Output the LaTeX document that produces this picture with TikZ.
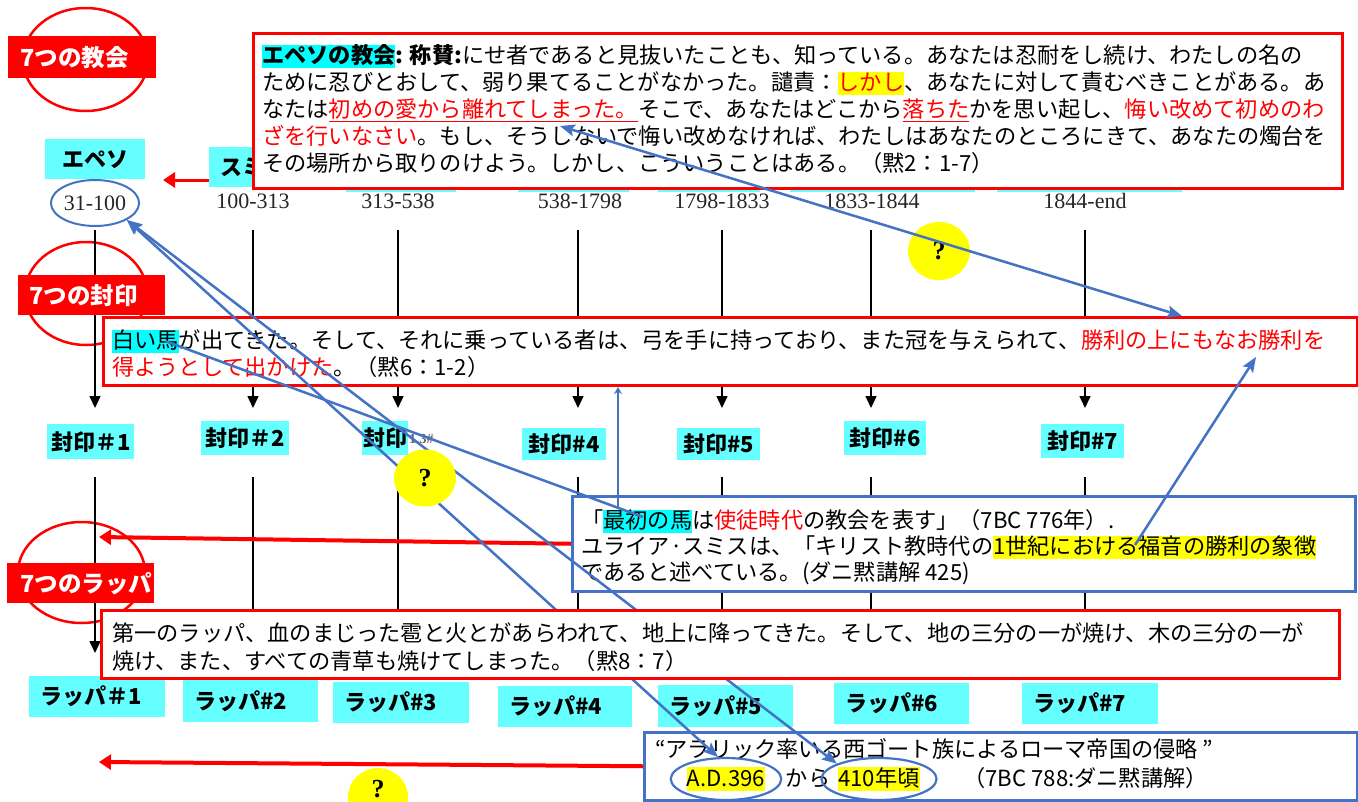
\documentclass[tikz,border=0pt]{standalone}
\usepackage{fontspec}
\usetikzlibrary{shapes.geometric,arrows.meta}
\newfontfamily\jp{Noto Sans CJK JP}
\newfontfamily\tnr{Liberation Serif}
\definecolor{bl}{RGB}{68,114,196}
\definecolor{cy}{RGB}{102,255,255}
\definecolor{hcy}{RGB}{0,255,255}
\definecolor{yel}{RGB}{255,255,0}
\definecolor{rd}{RGB}{255,0,0}
\lineskiplimit=-\maxdimen
\newcommand\HLc[1]{{\setlength{\fboxsep}{0pt}\colorbox{hcy}{\rule[-0.2em]{0pt}{1.05em}#1}}}
\newcommand\HLy[1]{{\setlength{\fboxsep}{0pt}\colorbox{yel}{\rule[-0.2em]{0pt}{1.05em}#1}}}
\newcommand\RD[1]{{\color{rd}#1}}
\newcommand\RU[1]{{\color{rd}\underline{#1}}}
\begin{document}
\begin{tikzpicture}[x=1pt,y=-1pt,
  redbox/.style={draw=rd, line width=3pt, fill=white, anchor=north west, inner sep=0pt},
  bluebox/.style={draw=bl, line width=2.5pt, fill=white, anchor=north west, inner sep=0pt},
  body/.style={anchor=north west, align=left, inner sep=0pt, font=\jp\fontsize{22.2}{27}\selectfont},
  bodyA/.style={anchor=north west, align=left, inner sep=0pt, font=\jp\fontsize{22.2}{26}\selectfont},
  body3/.style={anchor=north west, align=left, inner sep=0pt, font=\jp\fontsize{22.2}{28}\selectfont},
  jpt/.style={inner sep=0pt, font=\jp\fontsize{22.2}{27}\selectfont},
  lab/.style={fill=cy, anchor=north west, inner sep=0pt, font=\jp\bfseries\fontsize{22}{24}\selectfont},
  rlab/.style={fill=rd, text=white, anchor=north west, align=left, inner ysep=0pt, font=\jp\bfseries\fontsize{23.5}{25}\selectfont},
  redell/.style={ellipse, draw=rd, line width=2.5pt, inner sep=0pt},
  yr/.style={inner sep=0pt, text=black!85, font=\tnr\fontsize{22}{24}\selectfont},
  qm/.style={ellipse, fill=yel, inner sep=0pt, font=\tnr\bfseries\fontsize{26}{28}\selectfont},
  tline/.style={draw=black, line width=1.5pt, -{Triangle[length=12pt,width=11pt]}},
  rarr/.style={draw=rd, line width=4pt, -{Triangle[length=12pt,width=15pt]}},
  bl2/.style={draw=bl, line width=2.5pt}
]
\useasboundingbox (0,0) rectangle (1358,801);
\fill[white] (0,0) rectangle (1358,801);

% red ellipses around the row titles
\node[redell, minimum width=125pt, minimum height=103pt] (eC) at (85.5,59.5) {};
\node[redell, minimum width=122pt, minimum height=103pt] (eS) at (86,293.5) {};
\node[redell, minimum width=127pt, minimum height=101pt] (eT) at (81.5,572.5) {};

% timeline lines
\foreach \x [count=\i] in {95,253,398,578,722,871,1085} {
  \coordinate (ut\i) at (\x,230);
  \coordinate (ub\i) at (\x,408);
  \coordinate (lt\i) at (\x,477);
  \coordinate (lb\i) at (\x,653);
  \draw[tline] (ut\i) -- (ub\i);
  \draw[tline] (lt\i) -- (lb\i);
}

% church name boxes (mostly hidden)
\fill[cy] (346,150) rectangle (456,192);
\fill[cy] (518,150) rectangle (629,192);
\fill[cy] (658,150) rectangle (760,192);
\fill[cy] (790,150) rectangle (975,192);
\fill[cy] (997,150) rectangle (1182,192);
\node[lab, minimum width=100pt, minimum height=40pt] (cE) at (45,139) {エペソ};
\node[lab, text width=100pt, align=left, inner xsep=11pt, minimum height=40pt] (cS) at (209,147) {スミ};

% row titles
\node[rlab, minimum height=42pt, text width=124pt, inner xsep=12pt] (lC) at (8,36) {7つの教会};
\node[rlab, minimum height=40pt, text width=125pt, inner xsep=11pt] (lS) at (18,275) {7つの封印};
\node[rlab, minimum height=40pt, text width=121pt, inner xsep=13pt] (lT) at (7,563) {7つのラッパ};

% years
\node[yr, ellipse, draw=bl, line width=2pt, minimum width=84pt, minimum height=46pt] (y1) at (95,203) {31-100};
\node[yr] (y2) at (253,201) {100-313};
\node[yr] (y3) at (398,201) {313-538};
\node[yr] (y4) at (580,201) {538-1798};
\node[yr] (y5) at (722,201) {1798-1833};
\node[yr] (y6) at (872,201) {1833-1844};
\node[yr] (y7) at (1085,201) {1844-end};

% text box 1
\node[redbox, minimum width=1089pt, minimum height=155pt] (b1) at (252,32) {};
\node[body] (t1) at (262,44.5) {\strut\HLc{\bfseries エペソの教会}\textbf{: 称賛:}にせ者であると見抜いたことも、知っている。あなたは忍耐をし続け、わたしの名の\\
\strut ために忍びとおして、弱り果てることがなかった。譴責：\HLy{\RD{しかし}}、あなたに対して責むべきことがある。あ\\
\strut なたは\RU{初めの愛から離れてしまった。}そこで、あなたはどこから\RU{落ちた}かを思い起し、\RD{悔い改めて初めのわ}\\
\strut\RD{ざを行いなさい}。もし、そうしないで悔い改めなければ、わたしはあなたのところにきて、あなたの燭台を\\
\strut その場所から取りのけよう。しかし、こういうことはある。（黙2：1-7）};

% text box 2
\node[redbox, minimum width=1254pt, minimum height=68pt] (b2) at (102,316) {};
\node[body] (t2) at (112,329.5) {\strut\HLc{白い馬}が出てきた。そして、それに乗っている者は、弓を手に持っており、また冠を与えられて、\RD{勝利の上にもなお勝利を}\\
\strut\RD{得ようとして出かけた}。（黙6：1-2）};

% blue box A
\node[bluebox, minimum width=783pt, minimum height=95pt] (bA) at (571,495) {};
\node[bodyA] (tA) at (581,509.5) {\strut「\HLc{最初の馬}は\RD{使徒時代}の教会を表す」（7BC 776年）.\\
\strut ユライア·スミスは、「キリスト教時代の\HLy{1世紀における福音の勝利の象徴}\\
\strut であると述べている。(ダニ黙講解 425)};

% blue box B
\node[bluebox, minimum width=713pt, minimum height=68pt] (bB) at (643,731) {};
\node[jpt, anchor=base west] (tB) at (655,757.4) {“アラリック率いる西ゴート族によるローマ帝国の侵略 ”};
\node[jpt, ellipse, draw=bl, line width=2.2pt, minimum width=104pt, minimum height=42pt] (adE) at (726,779) {\HLy{A.D.396}};
\node[jpt, anchor=base] (kara) at (808,786.2) {から};
\node[jpt, ellipse, draw=bl, line width=2.2pt, minimum width=104pt, minimum height=42pt] (yrE) at (879,779) {\HLy{410年頃}};
\node[jpt, anchor=base west] (cit) at (963,786.2) {（7BC 788:ダニ黙講解）};

% seal labels
\node[lab, minimum width=87pt, minimum height=35pt] (s1) at (47,424) {封印＃1};
\node[lab, minimum width=88pt, minimum height=34pt] (s2) at (201,421) {封印＃2};
\node[lab, minimum width=46pt, minimum height=34pt] (s3) at (362,421) {封印};
\node[anchor=west, inner sep=0pt, text=black!60, font=\tnr\bfseries\fontsize{14}{16}\selectfont] (s3x) at (409,439) {1.3\#};
\node[lab, minimum width=84pt, minimum height=32pt] (s4) at (522,428) {封印\#4};
\node[lab, minimum width=83pt, minimum height=32pt] (s5) at (677,428) {封印\#5};
\node[lab, minimum width=82pt, minimum height=34pt] (s6) at (844,421) {封印\#6};
\node[lab, minimum width=83pt, minimum height=34pt] (s7) at (1041,424) {封印\#7};

% trumpet labels
\node[lab, text width=114pt, align=left, inner xsep=11pt, minimum height=41pt] (r1) at (29,676) {ラッパ＃1};
\node[lab, text width=113pt, align=left, inner xsep=11pt, minimum height=42pt] (r2) at (183,680) {ラッパ\#2};
\node[lab, text width=114pt, align=left, inner xsep=11pt, minimum height=41pt] (r3) at (333,682) {ラッパ\#3};
\node[lab, text width=112pt, align=left, inner xsep=11pt, minimum height=41pt] (r4) at (498,686) {ラッパ\#4};
\node[lab, text width=113pt, align=left, inner xsep=11pt, minimum height=42pt] (r5) at (658,685) {ラッパ\#5};
\node[lab, text width=113pt, align=left, inner xsep=11pt, minimum height=41pt] (r6) at (834,683) {ラッパ\#6};
\node[lab, text width=114pt, align=left, inner xsep=11pt, minimum height=41pt] (r7) at (1022,683) {ラッパ\#7};

% red arrows
\coordinate (rt) at (163,180);
\draw[rarr, line width=3pt] (cS.west |- rt) -- (rt);
\coordinate (ra) at (99,537);
\draw[rarr] (bA.west) -- (ra);
\coordinate (rb) at (99,762);
\draw[rarr] (bB.west) -- (rb);

% question mark 1
\node[qm, minimum width=62pt, minimum height=58pt] (q1) at (939,251) {?};

% blue connectors
\coordinate (ua) at (560,126);
\coordinate (b2a) at (1182,316);
\draw[bl2, {Stealth[length=15pt,width=12pt,inset=3pt]}-{Stealth[length=15pt,width=12pt,inset=3pt]}] (ua) -- (b2a);
\coordinate (kaA) at (1135,545);
\coordinate (sho) at (1256,357);
\draw[bl2, -{Stealth[length=15pt,width=12pt,inset=3pt]}] (kaA) -- (sho);
\coordinate (hw) at (165,341);
\coordinate (fh) at (643,517);
\draw[bl2] (hw) -- (fh);
\coordinate (vb) at (618,507);
\draw[bl2, -{Stealth[length=7pt,width=8pt]}] (vb) -- (vb |- b2.south);
\draw[bl2, {Stealth[length=15pt,width=12pt,inset=3pt]}-{Stealth[length=15pt,width=12pt,inset=3pt]}] (y1.south east) -- (adE.110);
\draw[bl2, {Stealth[length=15pt,width=12pt,inset=3pt]}-{Stealth[length=15pt,width=12pt,inset=3pt]}] (y1.south east) -- (yrE.160);

% question marks 2 and 3
\node[qm, minimum width=62pt, minimum height=57pt] (q2) at (425,478) {?};
\node[qm, minimum width=60pt, minimum height=58pt] (q3) at (378,797) {\smash{?}};

% text box 3
\node[redbox, minimum width=1238pt, minimum height=68pt] (b3) at (100,609) {};
\node[body3] (t3) at (112,622) {\strut 第一のラッパ、血のまじった雹と火とがあらわれて、地上に降ってきた。そして、地の三分の一が焼け、木の三分の一が\\
\strut 焼け、また、すべての青草も焼けてしまった。（黙8：7）};
\end{tikzpicture}
\end{document}
